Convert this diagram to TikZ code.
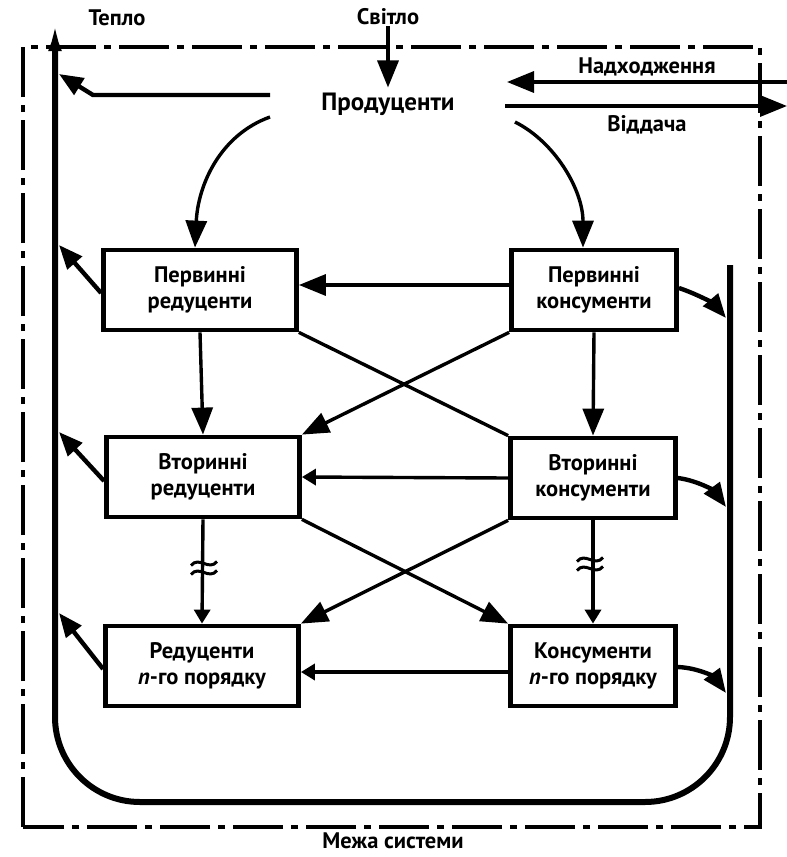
\documentclass[tikz,border=0pt]{standalone}
\usepackage{fontspec}
\setmainfont{PT Sans}
\usetikzlibrary{arrows.meta}
\begin{document}
\begin{tikzpicture}[x=1pt,y=-1pt,
  every node/.style={font=\bfseries\fontsize{22.5}{26}\selectfont},
  box/.style={draw,line width=4.8pt,minimum height=80pt,align=center,inner sep=2pt},
  rbox/.style={box,minimum width=193pt},
  cbox/.style={box,minimum width=165pt},
  lbl/.style={inner sep=1pt},
  flow/.style={line width=3.4pt,-{Triangle[length=27pt,width=21pt]}},
  thinflow/.style={line width=3.4pt,-{Triangle[length=14pt,width=16pt]}},
  plain/.style={line width=3.4pt},
  heat/.style={line width=4.4pt,-{Triangle[length=24pt,width=19pt]}},
  border/.style={line width=3.2pt,dash pattern=on 50pt off 8pt on 7pt off 8pt},
  sink/.style={line width=6pt,rounded corners=85pt}
]
\useasboundingbox (0,0) rectangle (787,857);
\fill[white] (0,0) rectangle (787,857);

% system boundary
\draw[border] (23,827) -- (23,47) -- (760,47) -- (760,827) -- cycle;

% texts
\node[lbl] (teplo) at (117,18) {Тепло};
\node[lbl] (svitlo) at (388,17) {Світло};
\node[lbl,font=\bfseries\fontsize{25}{28}\selectfont] (prod) at (388,104) {Продуценти};
\node[lbl] (nadh) at (647,67) {Надходження};
\node[lbl] (vidd) at (647,125) {Віддача};
\node[lbl,inner sep=0pt] (mezha) at (393,841) {Межа системи};

% boxes
\node[rbox] (pr) at (200,290) {Первинні\\редуценти};
\node[rbox] (sr) at (203,477) {Вторинні\\редуценти};
\node[rbox] (nr) at (202,666) {Редуценти\\\textit{n}-го порядку};
\node[cbox] (pc) at (594,290) {Первинні\\консументи};
\node[cbox] (sc) at (593,478) {Вторинні\\консументи};
\node[cbox] (nc) at (593,666) {Консументи\\\textit{n}-го порядку};

% heat sink line
\coordinate (sinkstart) at (730,265);
\coordinate (sinktop) at (55,17);
\draw[sink,-{Latex[length=34pt,width=13pt]}] (sinkstart) -- (730,802) -- (55,802) -- (sinktop);

\coordinate (hp) at (59,74);
\coordinate (h1) at (59,245);
\coordinate (h2) at (59,432);
\coordinate (h3) at (59,613);
\coordinate (c1) at (726,318);
\coordinate (c2) at (726,507);
\coordinate (c3) at (726,693);

% light
\draw[flow] (svitlo.south) -- ([yshift=4pt]prod.north);

% inputs / outputs
\coordinate (inR) at (787,82);
\coordinate (inL) at (507,82);
\coordinate (outL) at (505,106);
\coordinate (outR) at (787,106);
\draw[flow] (inR) -- (inL);
\draw[flow] (outL) -- (outR);

% producer flows
\draw[heat] (270,95) -- (93,95) -- (hp);
\draw[flow] (270,117) .. controls (220,135) and (198,185) .. ([xshift=-5pt]pr.north);
\draw[flow] (515,122) .. controls (555,142) and (583,190) .. ([xshift=-11pt]pc.north);

% between boxes
\draw[flow] (pc.west |- 0,285) -- (pr.east |- 0,285);
\draw[flow] (pr.south) -- (sr.north);
\draw[flow] (pc.south) -- (sc.north);
\draw[flow] (pc.south west) -- (sr.north east);
\draw[plain] (pr.south east) -- (sc.north west);
\draw[thinflow] (sc.west) -- (sr.east);
\draw[thinflow] (sr.south) -- (nr.north);
\draw[thinflow] (sc.south) -- (nc.north);
\draw[flow] (sr.south east) -- (nc.north west);
\draw[flow] (sc.south west) -- (nr.north east);
\draw[thinflow] (nc.west |- 0,672) -- (nr.east |- 0,672);

% break marks
\foreach \x/\y in {204/568, 590/564} {
  \foreach \d in {-4.5,4.5} {
    \draw[line width=3pt] (\x-13,\y+\d+2) .. controls (\x-5,\y+\d-8) and (\x+5,\y+\d+8) .. (\x+13,\y+\d-2);
  }
}

% heat from reducers
\draw[heat] ([yshift=-3pt]pr.west) -- (h1);
\draw[heat] ([yshift=-4pt]sr.west) -- (h2);
\draw[heat] ([yshift=-3pt]nr.west) -- (h3);

% consumers to sink
\draw[heat] ([yshift=2pt]pc.east) .. controls (700,295) and (715,305) .. (c1);
\draw[heat] ([yshift=0pt]sc.east) .. controls (700,481) and (715,492) .. (c2);
\draw[heat] ([yshift=-1pt]nc.east) .. controls (700,668) and (715,678) .. (c3);
\end{tikzpicture}
\end{document}
